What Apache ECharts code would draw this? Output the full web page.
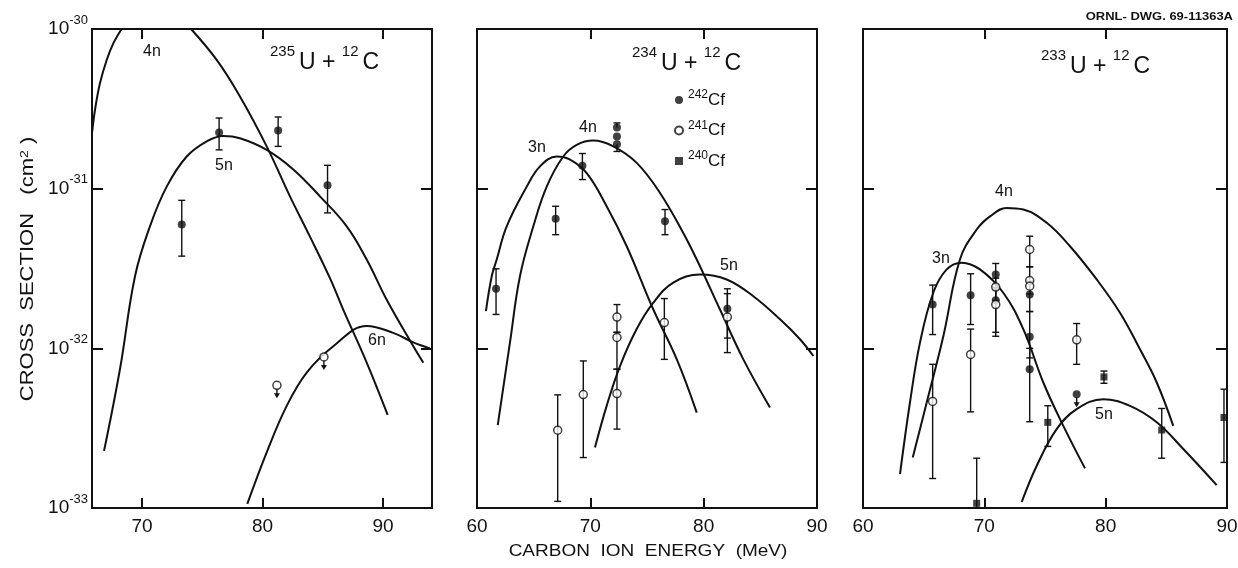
<!DOCTYPE html>
<html>
<head>
<meta charset="utf-8">
<script src="https://cdn.jsdelivr.net/npm/echarts@6/dist/echarts.min.js"></script>
<style>
  html, body { margin: 0; padding: 0; background: #fff; }
  #chart { width: 1238px; height: 568px; }
</style>
</head>
<body>
<div id="chart"></div>
<script>
// ---------------- data ----------------
// Measured points: [carbon energy (MeV), cross section (cm^2), upper error, lower error]
// Calculated excitation functions: [carbon energy (MeV), cross section (cm^2)]

// 235U + 12C
const u235Cf242 = [
  [73.3, 5.96e-32, 8.45e-32, 3.78e-32],
  [76.4, 2.25e-31, 2.77e-31, 1.75e-31],
  [81.3, 2.31e-31, 2.81e-31, 1.84e-31],
  [85.4, 1.05e-31, 1.40e-31, 7.05e-32]
];
const u235Cf241Limits = [[81.2, 5.87e-33], [85.1, 8.83e-33]];
const u235Curve4nRise = [[65.87, 2.28e-31], [66.1, 3.12e-31], [66.51, 4.57e-31], [67.07, 6.40e-31], [67.62, 8.13e-31], [68.31, 1.0e-30]];
const u235Curve4nFall = [[74.07, 1.0e-30], [76.2, 6.40e-31], [78.13, 3.78e-31], [80.35, 1.84e-31], [82.28, 8.95e-32], [83.94, 5.01e-32], [85.6, 2.75e-32], [86.7, 1.75e-32], [88.65, 8.15e-33], [90.39, 3.83e-33]];
const u235Curve5n = [[66.85, 2.28e-33], [68.17, 7.40e-33], [69.42, 2.83e-32], [70.66, 5.81e-32], [72.05, 1.03e-31], [73.71, 1.59e-31], [75.37, 1.98e-31], [76.75, 2.14e-31], [78.13, 2.07e-31], [80.35, 1.75e-31], [82.56, 1.32e-31], [84.77, 8.95e-32], [86.99, 5.81e-32], [88.65, 3.60e-32], [90.3, 2.02e-32], [92.52, 1.03e-32], [93.35, 8.13e-33]];
const u235Curve6n = [[78.74, 1.06e-33], [80.35, 2.23e-33], [82.01, 4.36e-33], [83.67, 7.05e-33], [85.88, 1.03e-32], [88.65, 1.38e-32], [90.85, 1.25e-32], [92.52, 1.09e-32], [93.9, 1.0e-32]];

// 234U + 12C
const u234Cf242 = [
  [61.68, 2.36e-32, 3.15e-32, 1.63e-32],
  [66.94, 6.49e-32, 7.76e-32, 5.15e-32],
  [69.3, 1.39e-31, 1.66e-31, 1.14e-31],
  [72.35, 2.42e-31, 2.58e-31, null],
  [72.35, 2.12e-31, null, null],
  [72.35, 1.90e-31, null, 1.71e-31],
  [76.59, 6.25e-32, 7.40e-32, 5.15e-32],
  [82.09, 1.77e-32, 2.20e-32, 1.16e-32]
];
const u234Cf241 = [
  [67.12, 3.07e-33, 5.11e-33, 1.10e-33],
  [69.38, 5.13e-33, 8.34e-33, 2.07e-33],
  [72.35, 1.57e-32, 1.88e-32, 1.26e-32],
  [72.35, 1.17e-32, 1.26e-32, 7.40e-33],
  [72.35, 5.21e-33, 7.40e-33, 3.12e-33],
  [76.53, 1.45e-32, 2.05e-32, 8.53e-33],
  [82.09, 1.57e-32, 2.36e-32, 9.40e-33]
];
const u234Curve3n = [[60.79, 1.71e-32], [61.3, 2.83e-32], [61.74, 3.60e-32], [62.62, 5.81e-32], [64.39, 1.03e-31], [65.56, 1.38e-31], [67.03, 1.59e-31], [68.21, 1.52e-31], [69.68, 1.25e-31], [71.45, 7.74e-32], [73.21, 4.36e-32], [75.56, 1.75e-32], [77.63, 8.53e-33], [79.39, 3.96e-33]];
const u234Curve4n = [[61.83, 3.30e-33], [62.91, 1.09e-32], [63.79, 2.83e-32], [64.97, 5.81e-32], [66.15, 1.03e-31], [67.61, 1.59e-31], [68.8, 1.88e-31], [70.26, 2.00e-31], [72.03, 1.84e-31], [74.09, 1.45e-31], [76.15, 9.40e-32], [78.2, 5.28e-32], [79.39, 3.60e-32], [81.44, 1.75e-32], [83.5, 8.53e-33], [85.85, 4.26e-33]];
const u234Curve5n = [[70.41, 2.39e-33], [71.44, 4.36e-33], [72.62, 7.74e-33], [74.09, 1.32e-32], [75.56, 1.93e-32], [77.32, 2.58e-32], [79.68, 2.90e-32], [82.03, 2.70e-32], [84.38, 2.12e-32], [86.74, 1.52e-32], [88.5, 1.14e-32], [89.68, 8.95e-33]];

// 233U + 12C
const u233Cf242 = [
  [65.74, 1.88e-32, 2.49e-32, 1.22e-32],
  [68.87, 2.15e-32, 2.93e-32, 1.41e-32],
  [70.94, 2.90e-32, 3.40e-32, 2.51e-32],
  [70.94, 2.00e-32, 2.40e-32, 1.26e-32],
  [73.74, 2.17e-32, 2.63e-32, 1.70e-32],
  [73.74, 1.18e-32, 1.70e-32, 8.71e-33],
  [73.74, 7.40e-33, 1.00e-32, 3.47e-33]
];
const u233Cf242Limits = [[77.61, 5.15e-33]];
const u233Cf241 = [
  [65.74, 4.65e-33, 7.94e-33, 1.53e-33],
  [68.87, 9.16e-33, 1.32e-32, 4.00e-33],
  [70.94, 2.42e-32, 2.75e-32, 2.00e-32],
  [70.94, 1.88e-32, 2.34e-32, 1.19e-32],
  [73.74, 4.16e-32, 5.04e-32, 3.24e-32],
  [73.74, 2.66e-32, 3.24e-32, 2.19e-32],
  [73.74, 2.45e-32, null, null],
  [77.61, 1.13e-32, 1.43e-32, 7.94e-33]
];
const u233Cf240 = [
  [69.37, 1.07e-33, 2.05e-33, 1.00e-33],
  [75.23, 3.44e-33, 4.37e-33, 2.43e-33],
  [79.86, 6.62e-33, 7.21e-33, 6.04e-33],
  [84.62, 3.08e-33, 4.20e-33, 2.05e-33],
  [89.75, 3.69e-33, 5.55e-33, 1.93e-33]
];
const u233Curve3n = [[63.05, 1.63e-33], [63.87, 4.58e-33], [64.7, 1.09e-32], [65.79, 2.23e-32], [66.9, 3.12e-32], [68.13, 3.44e-32], [69.64, 3.12e-32], [71.56, 2.23e-32], [73.21, 1.32e-32], [74.86, 6.11e-33], [76.51, 3.27e-33], [78.3, 1.77e-33]];
const u233Curve4n = [[64.1, 2.07e-33], [65.25, 4.58e-33], [66.62, 1.19e-32], [67.99, 3.60e-32], [69.37, 5.55e-32], [70.47, 6.71e-32], [71.84, 7.57e-32], [73.21, 7.40e-32], [75.14, 6.11e-32], [77.06, 4.36e-32], [79.26, 2.70e-32], [81.18, 1.67e-32], [82.83, 9.86e-33], [84.21, 6.11e-33], [85.57, 3.27e-33]];
const u233Curve5n = [[73.08, 1.09e-33], [74.32, 1.84e-33], [75.96, 3.12e-33], [77.61, 4.16e-33], [79.81, 4.80e-33], [82.01, 4.36e-33], [84.21, 3.44e-33], [86.4, 2.34e-33], [89.15, 1.39e-33]];

// axes
const u235EnergyRange = [65.85, 94.07];
const energyRange = [60, 90];
const u235EnergyTicks = [70, 80, 90];
const energyLabels = [60, 70, 80, 90];
const energyInnerTicks = [70, 80];
const sigmaRange = [1e-33, 1e-30];
const isotopeNames = ['242Cf', '241Cf', '240Cf'];

// ---------------- drawing ----------------
const FONT = '"Liberation Sans", Arial, Helvetica, sans-serif';
const INK = '#111';
const UNIT = 1e33; // plotted in units of 1e-33 cm^2 so the log axis stays well conditioned

const toUnits = rows => rows.map(r => r.map((v, i) => (i === 0 || v == null) ? v : v * UNIT));

const grids = [
  { left: 92, top: 29, width: 340, height: 479 },
  { left: 477, top: 29, width: 340, height: 479 },
  { left: 863, top: 29, width: 364, height: 479 }
].map(g => Object.assign(g, { outerBoundsMode: 'none', containLabel: false }));

const axisLine = { show: true, onZero: false, lineStyle: { color: INK, width: 2 } };

function xAxes(gi, range, tickVals, labelVals) {
  const base = { type: 'value', gridIndex: gi, min: range[0], max: range[1], splitLine: { show: false }, axisLine };
  const tick = { show: true, inside: true, length: 10, customValues: tickVals, lineStyle: { color: INK, width: 2 } };
  return [
    Object.assign({}, base, {
      position: 'bottom', axisTick: tick,
      axisLabel: { show: true, customValues: labelVals, margin: 9, color: INK, fontSize: 19, fontFamily: FONT }
    }),
    Object.assign({}, base, { position: 'top', axisTick: tick, axisLabel: { show: false } })
  ];
}

function yAxes(gi, withLabels) {
  const base = {
    type: 'log', logBase: 10, gridIndex: gi, min: sigmaRange[0] * UNIT, max: sigmaRange[1] * UNIT,
    splitLine: { show: false }, axisLine,
    axisTick: { show: true, inside: true, length: 11, lineStyle: { color: INK, width: 2 } }
  };
  return [
    Object.assign({}, base, {
      position: 'left',
      axisLabel: withLabels ? {
        show: true, margin: 4, color: INK,
        formatter: v => '{b|10}{s|' + (Math.round(Math.log10(v)) - 33) + '}',
        rich: {
          b: { fontSize: 19, fontFamily: FONT, color: INK, lineHeight: 31, verticalAlign: 'middle' },
          s: { fontSize: 13, fontFamily: FONT, color: INK, lineHeight: 13, verticalAlign: 'top' }
        }
      } : { show: false }
    }),
    Object.assign({}, base, { position: 'right', axisLabel: { show: false } })
  ];
}

function curve(gi, rows) {
  return {
    type: 'line', xAxisIndex: gi * 2, yAxisIndex: gi * 2, data: toUnits(rows),
    showSymbol: false, smooth: 0.4, silent: true, z: 2,
    lineStyle: { color: INK, width: 2 }
  };
}

function errorBars(gi, rows) {
  return {
    type: 'custom', xAxisIndex: gi * 2, yAxisIndex: gi * 2, data: toUnits(rows), silent: true, z: 3,
    encode: { x: 0, y: 1 },
    renderItem(params, api) {
      const x = api.value(0), hi = api.value(2), lo = api.value(3), y = api.value(1);
      const top = api.coord([x, isFinite(hi) && hi > 0 ? hi : y]);
      const bot = api.coord([x, isFinite(lo) && lo > 0 ? lo : y]);
      const cap = 3.5, st = { stroke: INK, lineWidth: 1.4 };
      const kids = [{ type: 'line', shape: { x1: top[0], y1: top[1], x2: bot[0], y2: bot[1] }, style: st }];
      if (isFinite(hi) && hi > 0) kids.push({ type: 'line', shape: { x1: top[0] - cap, y1: top[1], x2: top[0] + cap, y2: top[1] }, style: st });
      if (isFinite(lo) && lo > 0) kids.push({ type: 'line', shape: { x1: bot[0] - cap, y1: bot[1], x2: bot[0] + cap, y2: bot[1] }, style: st });
      return { type: 'group', children: kids };
    }
  };
}

const markerStyles = {
  '242Cf': { symbol: 'circle', symbolSize: 8, itemStyle: { color: INK, borderColor: INK, borderWidth: 0 } },
  '241Cf': { symbol: 'circle', symbolSize: 8, itemStyle: { color: '#fff', borderColor: INK, borderWidth: 1.5 } },
  '240Cf': { symbol: 'rect', symbolSize: 7, itemStyle: { color: INK, borderColor: INK, borderWidth: 0 } }
};

function points(gi, name, rows) {
  return Object.assign({
    type: 'scatter', name, xAxisIndex: gi * 2, yAxisIndex: gi * 2, data: toUnits(rows),
    encode: { x: 0, y: 1 }, silent: true, z: 5
  }, markerStyles[name]);
}

// upper limits: the marker with a short downward arrow
function limitArrows(gi, rows) {
  return {
    type: 'custom', xAxisIndex: gi * 2, yAxisIndex: gi * 2, data: toUnits(rows), silent: true, z: 4,
    encode: { x: 0, y: 1 },
    renderItem(params, api) {
      const p = api.coord([api.value(0), api.value(1)]);
      return {
        type: 'group', children: [
          { type: 'line', shape: { x1: p[0], y1: p[1] + 3, x2: p[0], y2: p[1] + 10 }, style: { stroke: INK, lineWidth: 1.4 } },
          { type: 'polygon', shape: { points: [[p[0] - 3, p[1] + 8], [p[0] + 3, p[1] + 8], [p[0], p[1] + 13]] }, style: { fill: INK } }
        ]
      };
    }
  };
}

const series = [
  curve(0, u235Curve4nRise), curve(0, u235Curve4nFall), curve(0, u235Curve5n), curve(0, u235Curve6n),
  errorBars(0, u235Cf242), points(0, '242Cf', u235Cf242),
  limitArrows(0, u235Cf241Limits), points(0, '241Cf', u235Cf241Limits),

  curve(1, u234Curve3n), curve(1, u234Curve4n), curve(1, u234Curve5n),
  errorBars(1, u234Cf242), errorBars(1, u234Cf241),
  points(1, '242Cf', u234Cf242), points(1, '241Cf', u234Cf241),

  curve(2, u233Curve3n), curve(2, u233Curve4n), curve(2, u233Curve5n),
  errorBars(2, u233Cf242), errorBars(2, u233Cf241), errorBars(2, u233Cf240),
  limitArrows(2, u233Cf242Limits),
  points(2, '242Cf', u233Cf242), points(2, '242Cf', u233Cf242Limits),
  points(2, '241Cf', u233Cf241), points(2, '240Cf', u233Cf240)
];

// text helpers
function txt(text, x, y, size, extra) {
  return Object.assign({
    type: 'text', x, y, silent: true,
    style: { text, fontSize: size, fontFamily: FONT, fill: INK, align: 'center', verticalAlign: 'middle', textAlign: 'center', textVerticalAlign: 'middle' }
  }, extra || {});
}

const titleRich = {
  b: { fontSize: 23, fontFamily: FONT, fill: INK, color: INK, lineHeight: 38, verticalAlign: 'middle' },
  s: { fontSize: 15, fontFamily: FONT, fill: INK, color: INK, lineHeight: 14, verticalAlign: 'top', padding: [0, 4, 0, 0] }
};
function reactionTitle(target, x, y) {
  return {
    type: 'text', left: x, top: y, silent: true,
    style: { text: '{s|' + target + '}{b|U + }{s|12}{b|C}', rich: titleRich, fontFamily: FONT, fill: INK }
  };
}

const graphic = [
  reactionTitle('235', 270, 44),
  reactionTitle('234', 632, 45),
  reactionTitle('233', 1041, 48),

  txt('4n', 152, 52, 16), txt('5n', 224, 166, 16), txt('6n', 377, 341, 16),
  txt('3n', 537, 148, 16), txt('4n', 588, 128, 16), txt('5n', 729, 266, 16),
  txt('3n', 941, 259, 16), txt('4n', 1004, 192, 16), txt('5n', 1104, 415, 16),

  txt('CARBON  ION  ENERGY  (MeV)', 648, 552, 19, { scaleY: 0.85 }),
  {
    type: 'text', x: 28, y: 269, rotation: Math.PI / 2, scaleY: 0.8, silent: true,
    style: {
      text: 'CROSS  SECTION   (cm{s|2} )', fontSize: 22, fontFamily: FONT, fill: INK,
      align: 'center', verticalAlign: 'middle', textAlign: 'center', textVerticalAlign: 'middle',
      rich: {
        s: { fontSize: 14, fontFamily: FONT, fill: INK, verticalAlign: 'top', lineHeight: 14 }
      }
    }
  },
  {
    type: 'text', x: 1233, y: 17, scaleY: 0.85, silent: true,
    style: {
      text: 'ORNL- DWG. 69-11363A', fontSize: 13, fontWeight: 'bold', fontFamily: FONT, fill: INK,
      align: 'right', verticalAlign: 'middle', textAlign: 'right', textVerticalAlign: 'middle'
    }
  }
];

const chart = echarts.init(document.getElementById('chart'), null, { renderer: 'canvas' });
chart.setOption({
  animation: false,
  backgroundColor: '#fff',
  textStyle: { fontFamily: FONT, color: INK },
  grid: grids,
  xAxis: [].concat(
    xAxes(0, u235EnergyRange, u235EnergyTicks, u235EnergyTicks),
    xAxes(1, energyRange, energyInnerTicks, energyLabels),
    xAxes(2, energyRange, energyInnerTicks, energyLabels)
  ),
  yAxis: [].concat(yAxes(0, true), yAxes(1, false), yAxes(2, false)),
  legend: {
    data: isotopeNames, orient: 'vertical', left: 669, top: 84,
    itemWidth: 8, itemHeight: 8, itemGap: 11, selectedMode: false,
    formatter: n => '{s|' + n.slice(0, 3) + '}{c|' + n.slice(3) + '}',
    textStyle: {
      color: INK,
      rich: {
        s: { fontSize: 12, fontFamily: FONT, color: INK, lineHeight: 12, verticalAlign: 'top' },
        c: { fontSize: 17, fontFamily: FONT, color: INK, lineHeight: 22, verticalAlign: 'middle' }
      }
    }
  },
  series,
  graphic
});
</script>
</body>
</html>
